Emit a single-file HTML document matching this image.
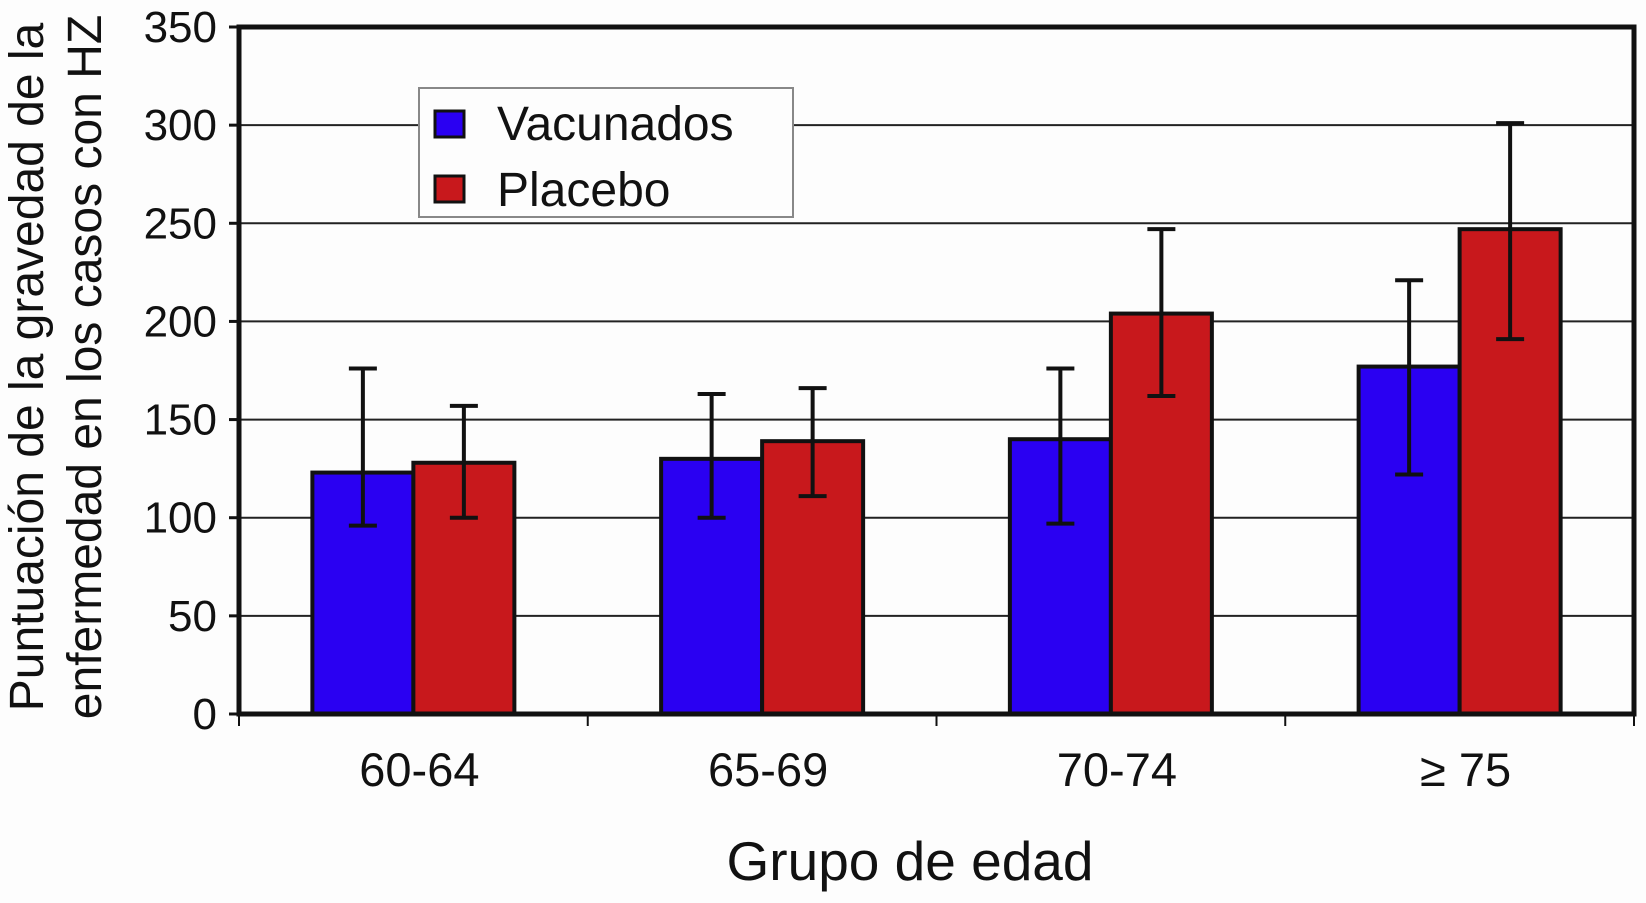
<!DOCTYPE html>
<html><head><meta charset="utf-8"><style>
html,body{margin:0;padding:0;background:#fdfdfd}
svg{display:block}
text{font-family:"Liberation Sans",Arial,sans-serif;fill:#111}
</style></head><body>
<svg id="chart" width="1646" height="903" viewBox="0 0 1646 903">
<rect x="0" y="0" width="1646" height="903" fill="#fdfdfd"/>
<g id="grid"></g>
<g id="bars"></g>
<g id="axes"></g>
<g>
  <rect x="419" y="88" width="374" height="129" fill="#fdfdfd" stroke="#888" stroke-width="2"/>
  <rect x="435" y="111" width="29" height="26" fill="#2a00f2" stroke="#111" stroke-width="3"/>
  <text x="497" y="140" font-size="48">Vacunados</text>
  <rect x="435" y="176" width="29" height="26" fill="#c8181c" stroke="#111" stroke-width="3"/>
  <text x="497" y="206" font-size="48">Placebo</text>
</g>
<text x="910" y="880" font-size="55" text-anchor="middle">Grupo de edad</text>
<g transform="translate(43,367) rotate(-90)">
  <text x="0" y="0" font-size="48" text-anchor="middle">Puntuación de la gravedad de la</text>
  <text x="0" y="58" font-size="48" text-anchor="middle">enfermedad en los casos con HZ</text>
</g>
</svg>
<script>
const categories = ["60-64","65-69","70-74","\u2265 75"];
const vacunados = [123,130,140,177];
const vacLow = [96,100,97,122];
const vacHigh = [176,163,176,221];
const placebo = [128,139,204,247];
const plaLow = [100,111,162,191];
const plaHigh = [157,166,247,301];
const yTicks = [0,50,100,150,200,250,300,350];

const NS="http://www.w3.org/2000/svg";
const X0=239, X1=1634, Y0=714, Y1=27, YMAX=350;
const catW=(X1-X0)/categories.length;
const y=v=>Y0-(v/YMAX)*(Y0-Y1);
const xc=i=>X0+catW*(i+0.5);
function mk(tag,attrs,parent){const e=document.createElementNS(NS,tag);for(const k in attrs)e.setAttribute(k,attrs[k]);parent.appendChild(e);return e;}
const grid=document.getElementById('grid'),bars=document.getElementById('bars'),axes=document.getElementById('axes');
yTicks.forEach(t=>{
  if(t>0&&t<YMAX){const l=mk('line',{x1:X0,x2:X1,y1:y(t),y2:y(t),stroke:'#222','stroke-width':2},grid);
  
  }
  const tk=mk('line',{x1:X0-10,x2:X0,y1:y(t),y2:y(t),stroke:'#111','stroke-width':3},axes);
  
  
  const tx=mk('text',{x:217,y:y(t)+15,'font-size':44,'text-anchor':'end'},axes);
  tx.textContent=t;
  
  
});
const bw=101;
function bar(x,v,lo,hi,fill,name){
  const r=mk('rect',{x:x,y:y(v),width:bw,height:Y0-y(v),fill:fill,stroke:'#111','stroke-width':4},bars);
  
  
  const cx=x+bw/2;
  const g=mk('g',{stroke:'#111','stroke-width':4},bars);
  
  
  mk('line',{x1:cx,x2:cx,y1:y(hi),y2:y(lo)},g);
  mk('line',{x1:cx-14,x2:cx+14,y1:y(hi),y2:y(hi)},g);
  mk('line',{x1:cx-14,x2:cx+14,y1:y(lo),y2:y(lo)},g);
}
categories.forEach((c,i)=>{
  const cx=xc(i);
  bar(cx-bw,vacunados[i],vacLow[i],vacHigh[i],'#2a00f2','bar-vacunados-'+i);
  bar(cx,placebo[i],plaLow[i],plaHigh[i],'#c8181c','bar-placebo-'+i);
  const t=mk('text',{x:cx+6,y:786,'font-size':47,'text-anchor':'middle'},axes);
  t.textContent=c;
  
  
});
for(let i=0;i<=categories.length;i++){
  const x=X0+catW*i;
  const tk=mk('line',{x1:x,x2:x,y1:Y0,y2:Y0+12,stroke:'#111','stroke-width':2},axes);
  
  
}
const frame=mk('rect',{x:X0,y:Y1,width:X1-X0,height:Y0-Y1,fill:'none',stroke:'#111','stroke-width':5},axes);


</script>
</body></html>
